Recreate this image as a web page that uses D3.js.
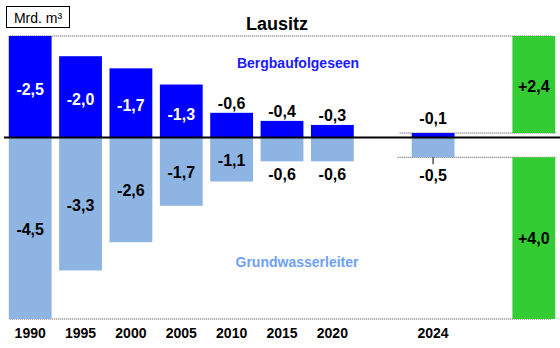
<!DOCTYPE html>
<html><head><meta charset="utf-8">
<script src="https://cdn.jsdelivr.net/npm/d3@7"></script>
<style>body{margin:0;background:#fff}svg{display:block;font-family:"Liberation Sans",Arial,sans-serif}</style>
</head><body><svg id="c" width="560" height="348"></svg>
<script>
const years = ["1990","1995","2000","2005","2010","2015","2020","2024"];
const lakes = [-2.5,-2.0,-1.7,-1.3,-0.6,-0.4,-0.3,-0.1];
const aquifer = [-4.5,-3.3,-2.6,-1.7,-1.1,-0.6,-0.6,-0.5];
const slots = ["1990","1995","2000","2005","2010","2015","2020","gap1","2024","gap2","total"];
const totalLabels = ["+2,4","+4,0"];
const title = "Lausitz", unit = "Mrd. m³";
const lakeName = "Bergbaufolgeseen", aquiferName = "Grundwasserleiter";

const svg = d3.select("#c");
const x = d3.scaleBand().domain(slots).range([5,559]).paddingInner(0.15).paddingOuter(0.075);
const y = d3.scaleLinear().domain([2.5,-4.5]).range([36,319]);
const fmt = v => d3.format(".1f")(v).replace(".",",").replace("−","-");
const BLUE="#0000ff", LIGHT="#8db4e2", GREEN="#33cc33";
const first = years[0], last = years[years.length-1];
const xl = x(first)+1, xr = x("total")+x.bandwidth()+1;
const y0 = y(0);

// dotted reference lines
const dot = (x1,x2,yy)=>svg.append("line").attr("x1",x1).attr("x2",x2).attr("y1",yy).attr("y2",yy)
  .attr("stroke","#444").attr("stroke-width",1).attr("stroke-dasharray","1,1");
dot(xl, xr-4, y(-lakes[0]));
dot(xl, xr-4, y(aquifer[0]));
const nl = lakes[lakes.length-1], na = aquifer[aquifer.length-1];
dot(x(last)-12, xr, y(-nl));
dot(x(last)-14, xr, y(na));

const data = years.map((yr,i)=>({yr, lake:lakes[i], aq:aquifer[i]}));
svg.selectAll(".lake").data(data).enter().append("rect")
  .attr("x",d=>x(d.yr)).attr("width",x.bandwidth())
  .attr("y",d=>y(-d.lake)).attr("height",d=>y0-y(-d.lake)).attr("fill",BLUE);
svg.selectAll(".aq").data(data).enter().append("rect")
  .attr("x",d=>x(d.yr)).attr("width",x.bandwidth())
  .attr("y",y0).attr("height",d=>y(d.aq)-y0).attr("fill",LIGHT);

// totals (green)
const gx = x("total");
svg.append("rect").attr("x",gx).attr("width",x.bandwidth()).attr("y",y(-lakes[0])).attr("height",y(-nl)-y(-lakes[0])).attr("fill",GREEN);
svg.append("rect").attr("x",gx).attr("width",x.bandwidth()).attr("y",y(na)).attr("height",y(aquifer[0])-y(na)).attr("fill",GREEN);

// zero line
svg.append("line").attr("x1",4).attr("x2",560).attr("y1",y0+0.5).attr("y2",y0+0.5).attr("stroke","#000").attr("stroke-width",2);
svg.append("line").attr("x1",x(last)+x.bandwidth()/2).attr("x2",x(last)+x.bandwidth()/2)
  .attr("y1",y(na)).attr("y2",y(na)+7).attr("stroke","#000").attr("stroke-width",1);

const lab = (tx,ty,t,col,size)=>svg.append("text").attr("x",tx).attr("y",ty).attr("text-anchor","middle")
  .attr("dy","0.36em").attr("font-weight","bold").attr("font-size",size||16).attr("fill",col).text(t);
data.forEach(d=>{
  const cx = x(d.yr)+x.bandwidth()/2;
  if (Math.abs(d.lake) >= 1.3) lab(cx,(y(-d.lake)+y0)/2+3,fmt(d.lake),"#fff");
  else lab(cx, y(-d.lake) - (d.yr===last?15:10), fmt(d.lake), "#000");
  if (Math.abs(d.aq) >= 1.1) lab(cx,(y(d.aq)+y0)/2+1,fmt(d.aq),"#000");
  else lab(cx, y(d.aq) + (d.yr===last?18:13), fmt(d.aq), "#000");
});
lab(gx+x.bandwidth()/2,(y(-lakes[0])+y(-nl))/2+2,totalLabels[0],"#000");
lab(gx+x.bandwidth()/2,(y(na)+y(aquifer[0]))/2,totalLabels[1],"#000");

lab(298,63,lakeName,"#1a1aff",14);
lab(297,262,aquiferName,"#6f9ff5",14);

svg.append("text").attr("x",277).attr("y",30).attr("text-anchor","middle").attr("font-weight","bold")
  .attr("font-size",18).attr("fill","#000").text(title);

svg.append("rect").attr("x",6.5).attr("y",6.5).attr("width",63).attr("height",21).attr("fill","#fff").attr("stroke","#000").attr("stroke-width",1);
svg.append("text").attr("x",38).attr("y",22.5).attr("text-anchor","middle").attr("font-size",14).attr("fill","#000").text(unit);

const ax = svg.append("g").attr("transform","translate(0,328)")
  .call(d3.axisBottom(x).tickValues(years).tickSize(0).tickPadding(0));
ax.select(".domain").remove();
ax.selectAll("text").attr("font-size",14).attr("font-weight","bold").attr("fill","#000")
  .attr("font-family","Liberation Sans, Arial, sans-serif");
</script></body></html>
